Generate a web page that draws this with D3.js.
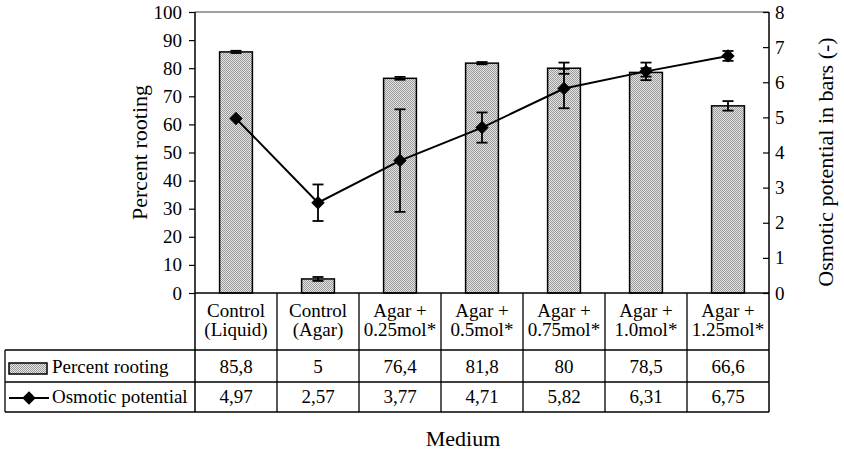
<!DOCTYPE html>
<html>
<head>
<meta charset="utf-8">
<script src="https://cdn.jsdelivr.net/npm/d3@7"></script>
<style>
  body { margin: 0; background: #fff; }
</style>
</head>
<body>
<div id="chart"></div>
<script>
const categories = ["Control\n(Liquid)", "Control\n(Agar)", "Agar +\n0.25mol*", "Agar +\n0.5mol*",
    "Agar +\n0.75mol*", "Agar +\n1.0mol*", "Agar +\n1.25mol*"];
const percentRooting = [85.8, 5, 76.4, 81.8, 80, 78.5, 66.6];
const rootingErr = [0.4, 0.7, 0.5, 0.4, 2.0, 1.5, 1.7];
const osmoticPotential = [4.97, 2.57, 3.77, 4.71, 5.82, 6.31, 6.75];
const osmoticErr = [0, 0.52, 1.46, 0.43, 0.56, 0.25, 0.14];
const leftTicks = [0, 10, 20, 30, 40, 50, 60, 70, 80, 90, 100];
const rightTicks = [0, 1, 2, 3, 4, 5, 6, 7, 8];

const width = 844;
const height = 452;
const plotLeft = 195, plotRight = 769, plotTop = 12, plotBottom = 293;
const headBottom = 350, row1Bottom = 382, row2Bottom = 412, tableLeft = 5;
const serif = "'Liberation Serif', 'Times New Roman', Times, 'DejaVu Serif', serif";

const svg = d3.select("#chart")
    .append("svg")
    .attr("width", width)
    .attr("height", height);

// dithered grey fill like the original bars
const pat = svg.append("defs").append("pattern")
    .attr("id", "dots")
    .attr("width", 2)
    .attr("height", 2)
    .attr("patternUnits", "userSpaceOnUse");
pat.append("rect").attr("width", 2).attr("height", 2).attr("fill", "#e4e4e4");
pat.append("rect").attr("width", 1).attr("height", 1).attr("fill", "#9a9a9a");
pat.append("rect").attr("x", 1).attr("y", 1).attr("width", 1).attr("height", 1).attr("fill", "#9a9a9a");

const x = d3.scaleBand()
    .domain(categories)
    .range([plotLeft, plotRight])
    .paddingInner(0)
    .paddingOuter(0);

const yLeft = d3.scaleLinear().domain([0, 100]).range([plotBottom, plotTop]);
const yRight = d3.scaleLinear().domain([0, 8]).range([plotBottom, plotTop]);

const fmt = v => String(v).replace(".", ",");

// top gridline
svg.append("line")
    .attr("x1", plotLeft).attr("x2", plotRight)
    .attr("y1", yLeft(100)).attr("y2", yLeft(100))
    .attr("stroke", "#808080")
    .attr("stroke-width", 1.5);

// left axis
const leftAxis = svg.append("g")
    .attr("transform", "translate(" + plotLeft + ",0)")
    .call(d3.axisLeft(yLeft).tickValues(leftTicks).tickSize(6).tickPadding(7));
leftAxis.select(".domain").remove();
leftAxis.selectAll("line").attr("stroke", "#000").attr("stroke-width", 1.2);
leftAxis.selectAll("text").style("font-size", "19px");

// right axis, ticks pointing in
const rightAxis = svg.append("g")
    .attr("transform", "translate(" + plotRight + ",0)")
    .call(d3.axisRight(yRight).tickValues(rightTicks).tickSize(-6).tickPadding(7));
rightAxis.select(".domain").remove();
rightAxis.selectAll("line").attr("stroke", "#000").attr("stroke-width", 1.2);
rightAxis.selectAll("text").style("font-size", "19px").attr("x", 6);

// bars
const barW = x.bandwidth() * 0.4;
svg.selectAll(".bar")
    .data(percentRooting)
    .enter().append("rect")
    .attr("class", "bar")
    .attr("x", (d, i) => x(categories[i]) + (x.bandwidth() - barW) / 2)
    .attr("y", d => yLeft(d))
    .attr("width", barW)
    .attr("height", d => yLeft(0) - yLeft(d))
    .attr("fill", "url(#dots)")
    .attr("stroke", "#000")
    .attr("stroke-width", 1.5);

const cx = i => x(categories[i]) + x.bandwidth() / 2;

function errorBars(values, errs, scale) {
    const g = svg.append("g");
    values.forEach((v, i) => {
        if (!errs[i]) return;
        const lo = scale(v - errs[i]), hi = scale(v + errs[i]);
        g.append("line").attr("x1", cx(i)).attr("x2", cx(i)).attr("y1", lo).attr("y2", hi);
        g.append("line").attr("x1", cx(i) - 5.5).attr("x2", cx(i) + 5.5).attr("y1", lo).attr("y2", lo);
        g.append("line").attr("x1", cx(i) - 5.5).attr("x2", cx(i) + 5.5).attr("y1", hi).attr("y2", hi);
    });
    g.selectAll("line").attr("stroke", "#000").attr("stroke-width", 1.8);
}

errorBars(percentRooting, rootingErr, yLeft);

// axes lines
svg.append("line")
    .attr("x1", plotLeft).attr("x2", plotRight)
    .attr("y1", plotBottom).attr("y2", plotBottom)
    .attr("stroke", "#000").attr("stroke-width", 1.5);
svg.append("line")
    .attr("x1", plotLeft).attr("x2", plotLeft)
    .attr("y1", plotTop).attr("y2", row2Bottom)
    .attr("stroke", "#000").attr("stroke-width", 1.5);
svg.append("line")
    .attr("x1", plotRight).attr("x2", plotRight)
    .attr("y1", plotTop).attr("y2", row2Bottom)
    .attr("stroke", "#000").attr("stroke-width", 1.5);

// osmotic potential line
const line = d3.line()
    .x((d, i) => cx(i))
    .y(d => yRight(d));

svg.append("path")
    .datum(osmoticPotential)
    .attr("d", line)
    .attr("fill", "none")
    .attr("stroke", "#000")
    .attr("stroke-width", 2);

errorBars(osmoticPotential, osmoticErr, yRight);

const diamond = d3.symbol().type(d3.symbolDiamond2).size(115);
svg.selectAll(".pt")
    .data(osmoticPotential)
    .enter().append("path")
    .attr("class", "pt")
    .attr("d", diamond)
    .attr("transform", (d, i) => "translate(" + cx(i) + "," + yRight(d) + ")")
    .attr("fill", "#000");

// data table
const table = svg.append("g")
    .attr("stroke", "#000")
    .attr("stroke-width", 1.3);
x.domain().slice(1).forEach(c => {
    table.append("line")
        .attr("x1", x(c)).attr("x2", x(c))
        .attr("y1", plotBottom).attr("y2", row2Bottom);
});
[headBottom, row1Bottom, row2Bottom].forEach(yy => {
    table.append("line")
        .attr("x1", tableLeft).attr("x2", plotRight)
        .attr("y1", yy).attr("y2", yy);
});
table.append("line")
    .attr("x1", tableLeft).attr("x2", tableLeft)
    .attr("y1", headBottom).attr("y2", row2Bottom);

const head = svg.selectAll(".head")
    .data(categories)
    .enter().append("text")
    .attr("class", "head")
    .attr("text-anchor", "middle")
    .style("font-size", "19px");
head.each(function(d, i) {
    d.split("\n").forEach((t, j) => {
        d3.select(this).append("tspan")
            .attr("x", cx(i))
            .attr("y", 317 + j * 19)
            .text(t);
    });
});

svg.selectAll(".v1")
    .data(percentRooting)
    .enter().append("text")
    .attr("x", (d, i) => cx(i))
    .attr("y", 373)
    .attr("text-anchor", "middle")
    .style("font-size", "19px")
    .text(d => fmt(d));

svg.selectAll(".v2")
    .data(osmoticPotential)
    .enter().append("text")
    .attr("x", (d, i) => cx(i))
    .attr("y", 403)
    .attr("text-anchor", "middle")
    .style("font-size", "19px")
    .text(d => fmt(d));

// row legends
svg.append("rect")
    .attr("x", 9).attr("y", 363)
    .attr("width", 38).attr("height", 11)
    .attr("fill", "url(#dots)")
    .attr("stroke", "#000").attr("stroke-width", 1.5);
svg.append("text")
    .attr("x", 52).attr("y", 373)
    .style("font-size", "19px")
    .text("Percent rooting");
svg.append("line")
    .attr("x1", 9).attr("x2", 49)
    .attr("y1", 398).attr("y2", 398)
    .attr("stroke", "#000").attr("stroke-width", 2);
svg.append("path")
    .attr("d", diamond)
    .attr("transform", "translate(29,398)")
    .attr("fill", "#000");
svg.append("text")
    .attr("x", 52).attr("y", 403)
    .style("font-size", "19px")
    .text("Osmotic potential");

// axis titles
svg.append("text")
    .attr("transform", "translate(147," + (plotTop + plotBottom) / 2 + ") rotate(-90)")
    .attr("text-anchor", "middle")
    .style("font-size", "22px")
    .text("Percent rooting");
svg.append("text")
    .attr("transform", "translate(833,162) rotate(-90)")
    .attr("text-anchor", "middle")
    .style("font-size", "22px")
    .text("Osmotic potential in bars (-)");
svg.append("text")
    .attr("x", 463).attr("y", 446)
    .attr("text-anchor", "middle")
    .style("font-size", "22px")
    .text("Medium");

svg.selectAll("text")
    .style("font-family", serif)
    .attr("fill", "#000");
</script>
</body>
</html>
